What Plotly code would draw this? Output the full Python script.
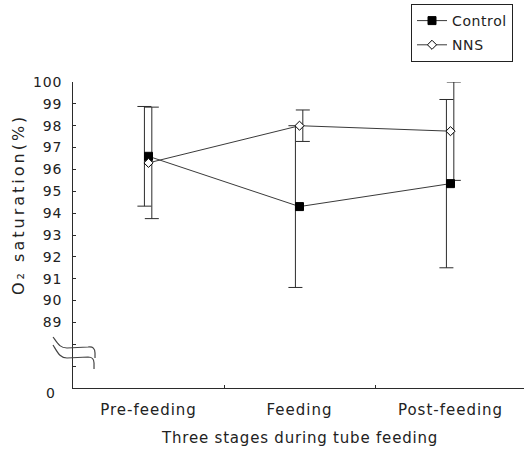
import plotly.graph_objects as go

stages = ["Pre-feeding", "Feeding", "Post-feeding"]
control_mean = [96.6, 94.3, 95.35]
control_sd = [2.28, 3.7, 3.85]
nns_mean = [96.3, 98.0, 97.75]
nns_sd = [2.55, 0.72, 2.25]
ytick_vals = list(range(87, 101))
ytick_text = ["" if v < 89 else str(v) for v in ytick_vals]

FONT = "DejaVu Sans"
INK = "#2b2b2b"
TXT = "#222222"

# plot-area geometry (pixels)
L, R, T, B = 73, 0, 82, 63
W, H = 524, 451
PW, PH = W - L - R, H - T - B


def sp(text, ls):
    return '<span style="letter-spacing:%.1fpx">%s</span>' % (ls, text) if text else ""


idx = list(range(len(stages)))
ctrl_off = -0.027
nns_off = 0.022

fig = go.Figure()

# error bars (slightly offset like the original)
fig.add_trace(go.Scatter(
    x=[i + ctrl_off for i in idx], y=control_mean, mode="markers",
    marker=dict(color="rgba(0,0,0,0)", size=2), showlegend=False, hoverinfo="skip",
    cliponaxis=False,
    error_y=dict(type="data", array=control_sd, visible=True, color=INK, thickness=1, width=7)))
fig.add_trace(go.Scatter(
    x=[i + nns_off for i in idx], y=nns_mean, mode="markers",
    marker=dict(color="rgba(0,0,0,0)", size=2), showlegend=False, hoverinfo="skip",
    cliponaxis=False,
    error_y=dict(type="data", array=nns_sd, visible=True, color=INK, thickness=1, width=7)))

fig.add_trace(go.Scatter(
    x=idx, y=control_mean, mode="lines+markers", name=sp("Control", 0.6),
    legendgroup="c",
    line=dict(color="#3a3a3a", width=1),
    marker=dict(symbol="square", size=8, color="black", line=dict(color="black", width=1)),
    cliponaxis=False))
fig.add_trace(go.Scatter(
    x=idx, y=nns_mean, mode="lines+markers", name=sp("NNS", 0.6),
    legendgroup="n",
    line=dict(color="#3a3a3a", width=1),
    marker=dict(symbol="diamond", size=7, color="white", line=dict(color="black", width=1)),
    cliponaxis=False))


def px(x, y):
    return (x - L) / PW, (H - B - y) / PH


def path(points):
    s = ""
    for cmd, pts in points:
        coords = " ".join("%.4f,%.4f" % px(*p) for p in pts)
        s += cmd + coords + " "
    return s.strip()


break1 = path([("M", [(53, 337)]), ("C", [(58, 344), (60, 348), (67, 348)]),
               ("L", [(88, 347)]), ("C", [(93, 346), (95, 349), (95, 353)]), ("L", [(95, 358)])])
break2 = path([("M", [(53, 345)]), ("C", [(58, 353), (60, 358), (67, 358)]),
               ("L", [(88, 357)]), ("C", [(93, 357), (94, 360), (94, 363)]), ("L", [(94, 369)])])
for p in (break1, break2):
    fig.add_shape(type="path", path=p, xref="paper", yref="paper",
                  line=dict(color="#444444", width=1.2))

fig.update_layout(
    width=W, height=H,
    margin=dict(l=L, r=R, t=T, b=B),
    paper_bgcolor="white", plot_bgcolor="white",
    font=dict(family=FONT, size=14, color=TXT),
    showlegend=True,
    legend=dict(x=(411 - L) / PW, y=(H - B - 4) / PH, xanchor="left", yanchor="top",
                bordercolor="#222222", borderwidth=1, bgcolor="white",
                font=dict(size=14, family=FONT, color=TXT),
                traceorder="grouped", tracegroupgap=3, itemwidth=30),
    xaxis=dict(
        range=[-0.5, -0.5 + PW / 151.0],
        tickmode="array", tickvals=idx, ticktext=[sp(s, 1.0) for s in stages], ticks="",
        tickfont=dict(size=15, family=FONT, color=TXT),
        showline=True, linecolor=INK, linewidth=1, showgrid=False, zeroline=False,
        ticklabelstandoff=8,
        minor=dict(tickmode="array", tickvals=[0.5, 1.5], ticks="inside", ticklen=3,
                   tickcolor=INK, showgrid=False),
    ),
    yaxis=dict(
        range=[86, 100],
        tickmode="array", tickvals=ytick_vals, ticktext=[sp(t, 0.8) for t in ytick_text],
        ticks="inside", ticklen=3, tickcolor=INK,
        tickfont=dict(size=14, family=FONT, color=TXT),
        showline=True, linecolor=INK, linewidth=1, showgrid=False, zeroline=False,
        ticklabelstandoff=7,
    ),
    annotations=[
        dict(text="0", xref="paper", yref="paper", x=(50 - L) / PW, y=(H - B - 393) / PH,
             showarrow=False, font=dict(size=14, family=FONT, color=TXT),
             xanchor="center", yanchor="middle"),
        dict(text=sp("Three stages during tube feeding", 0.8), xref="paper", yref="paper",
             x=(299 - L) / PW, y=(H - B - 438) / PH, showarrow=False,
             font=dict(size=15, family=FONT, color=TXT), xanchor="center", yanchor="middle"),
        dict(text=sp("O₂ saturation(%)", 3.0), xref="paper", yref="paper",
             x=(18 - L) / PW, y=(H - B - 205) / PH, showarrow=False, textangle=-90,
             font=dict(size=16, family=FONT, color=TXT), xanchor="center", yanchor="middle"),
    ],
)

fig.write_html("out.html")
